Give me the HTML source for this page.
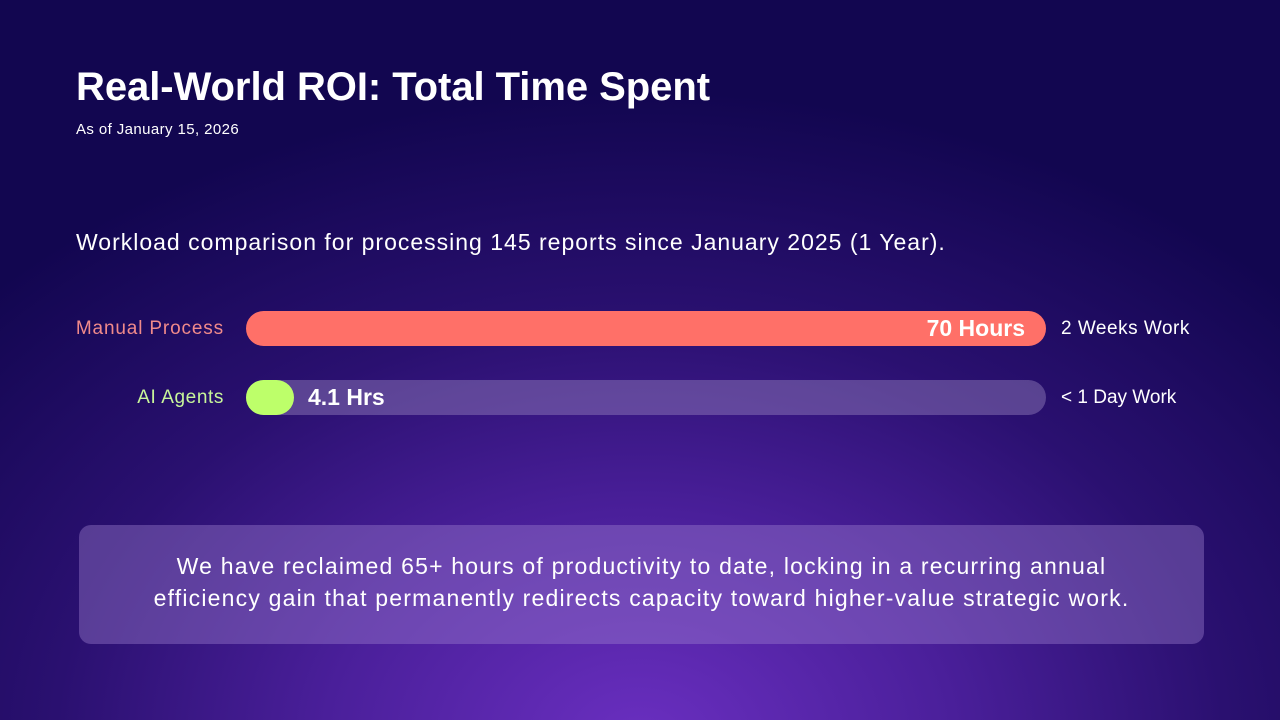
<!DOCTYPE html>
<html><head><meta charset="utf-8"><style>
html,body{margin:0;padding:0}
body{width:1280px;height:720px;overflow:hidden;position:relative;font-family:"Liberation Sans",sans-serif;color:#fff;
background:radial-gradient(ellipse 900px 650px at 640px 740px,#6a2fc0 0%,#4a1f9a 35%,#2a1070 65%,#120650 100%);}
.a{position:absolute;white-space:nowrap}
h1{position:absolute;left:76px;top:65px;margin:0;font-size:40px;font-weight:bold;letter-spacing:-0.05px}
.track{position:absolute;left:246px;width:800px;height:35px;border-radius:18px;background:rgba(150,130,190,0.45)}
.bar{position:absolute;left:0;top:0;height:35px;border-radius:18px}
.box{position:absolute;left:79px;top:525px;width:1125px;height:119px;border-radius:12px;background:rgba(160,130,210,0.4);text-align:center;font-size:23px;line-height:32px;box-sizing:border-box;padding-top:25px;letter-spacing:1.2px}
</style></head><body>
<h1>Real-World ROI: Total Time Spent</h1>
<div class="a" style="left:76px;top:121px;font-size:15px;letter-spacing:0.4px">As of January 15, 2026</div>
<div class="a" style="left:76px;top:229px;font-size:23px;letter-spacing:1px">Workload comparison for processing 145 reports since January 2025 (1 Year).</div>
<div class="a" style="left:70px;top:318px;width:154px;text-align:right;font-size:19px;color:#f08a8a;letter-spacing:0.85px">Manual Process</div>
<div class="track" style="top:311px;background:#ff7068"><div class="a" style="right:21px;top:4px;font-size:23px;font-weight:bold">70 Hours</div></div>
<div class="a" style="left:1061px;top:318px;font-size:19px;letter-spacing:0.5px">2 Weeks Work</div>
<div class="a" style="left:70px;top:387px;width:154px;text-align:right;font-size:19px;color:#c8f59a;letter-spacing:0.6px">AI Agents</div>
<div class="track" style="top:380px"><div class="bar" style="width:48px;background:#bdff6a"></div><div class="a" style="left:62px;top:4px;font-size:23px;font-weight:bold">4.1 Hrs</div></div>
<div class="a" style="left:1061px;top:387px;font-size:19px">&lt; 1 Day Work</div>
<div class="box">We have reclaimed 65+ hours of productivity to date, locking in a recurring annual<br>efficiency gain that permanently redirects capacity toward higher-value strategic work.</div>
</body></html>
